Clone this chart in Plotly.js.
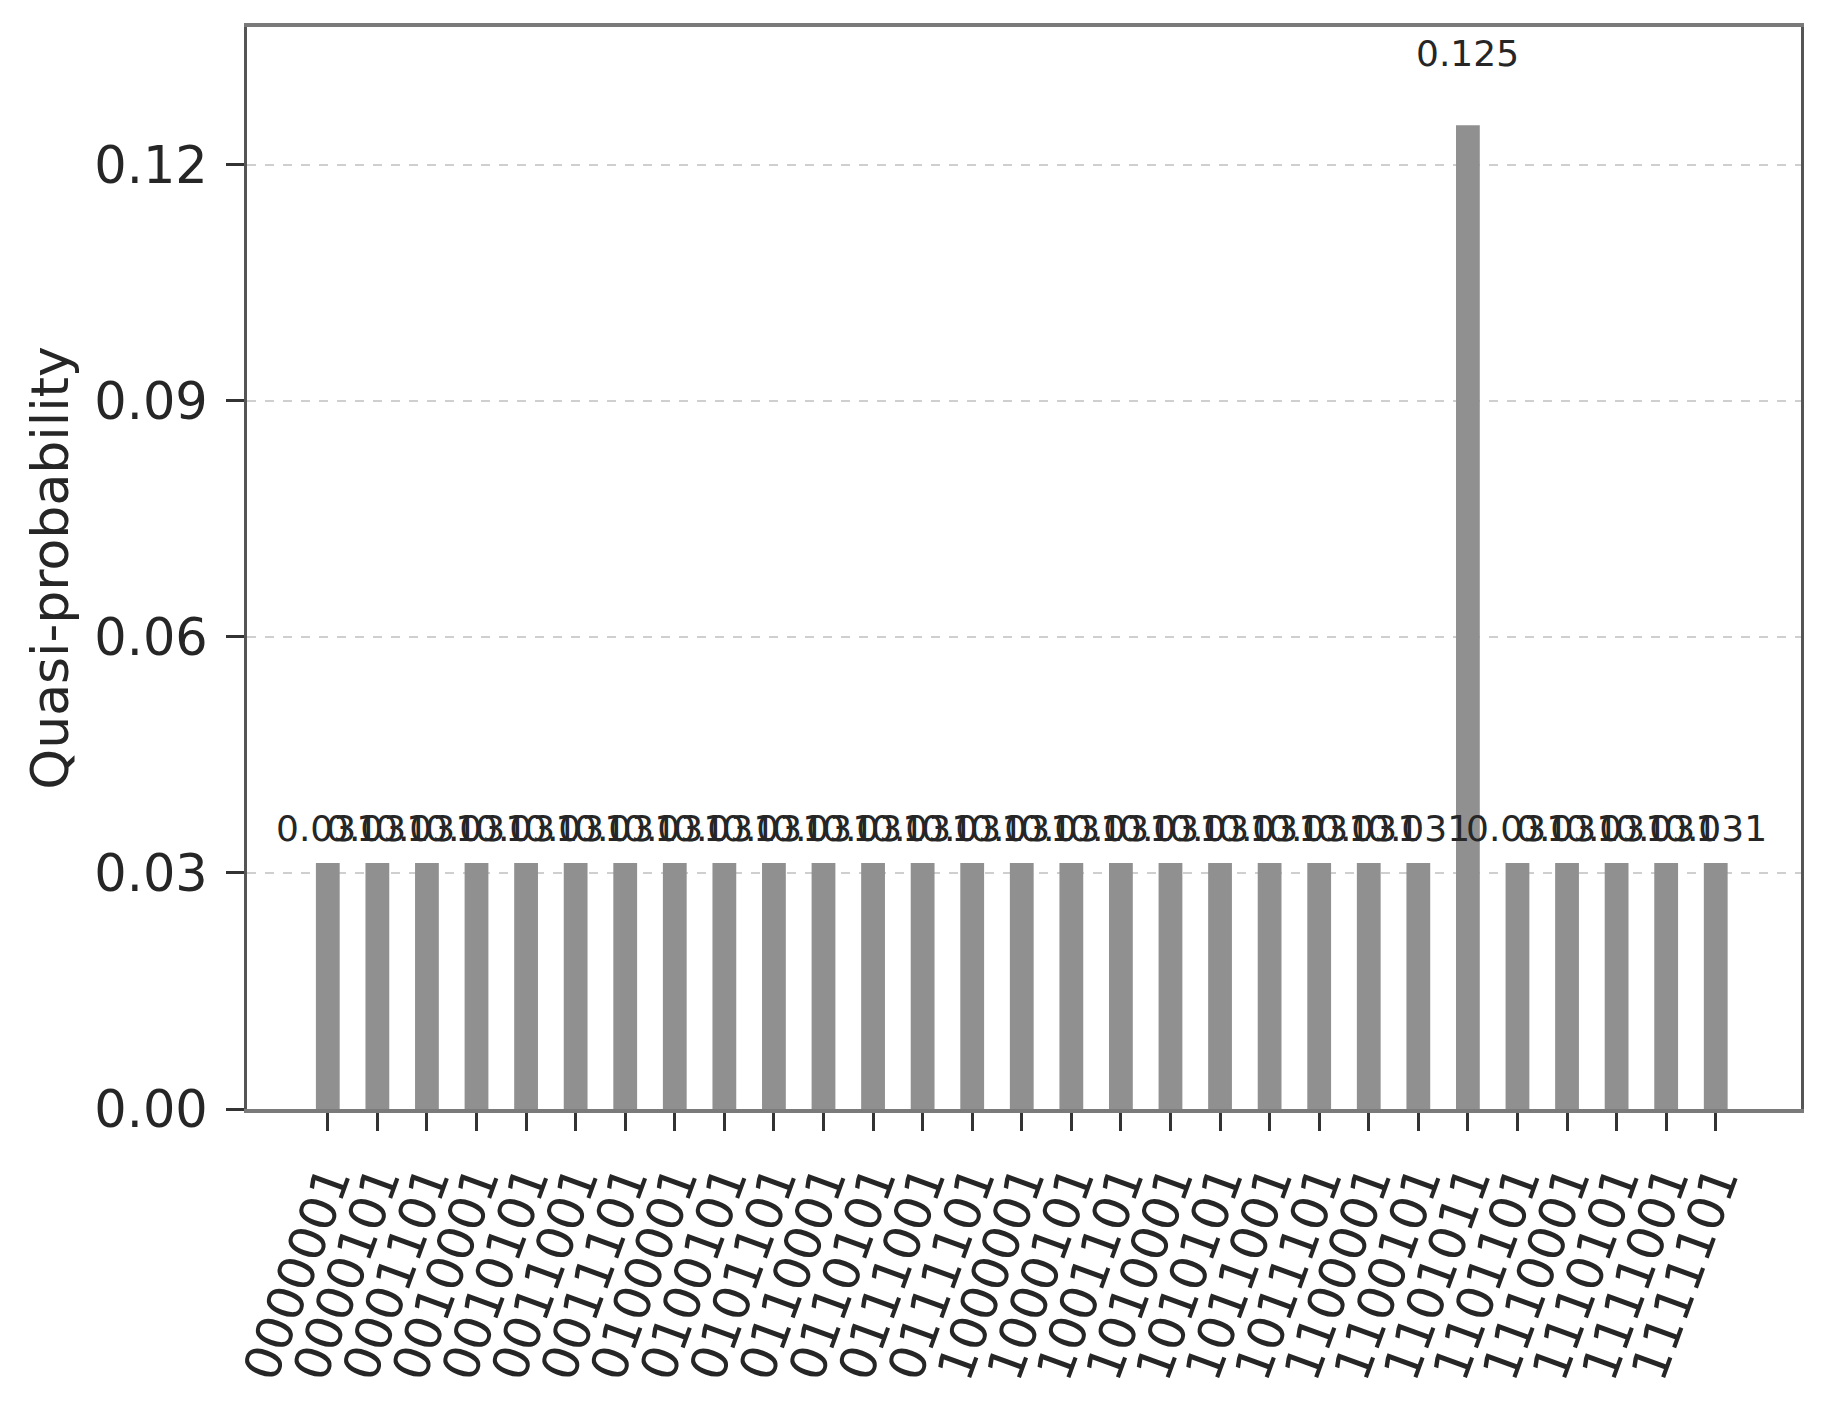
<!DOCTYPE html>
<html>
<head>
<meta charset="utf-8">
<script src="https://cdn.plot.ly/plotly-3.0.1.min.js"></script>
<style>
  html, body { margin: 0; padding: 0; background: #ffffff; }
  #chart { width: 1828px; height: 1402px; }
</style>
</head>
<body>
<div id="chart"></div>
<script>
// Bitstring outcomes (x categories)
const bitstrings = [
  "0000001", "0000101", "0001101", "0010001", "0010101", "0011001", "0011101",
  "0100001", "0100101", "0101101", "0110001", "0110101", "0111001", "0111101",
  "1000001", "1000101", "1001101", "1010001", "1010101", "1011001", "1011101",
  "1100001", "1100101", "1101011", "1101101", "1110001", "1110101", "1111001",
  "1111101"
];

// Quasi-probabilities
const quasiProbs = [
  0.03125, 0.03125, 0.03125, 0.03125, 0.03125, 0.03125, 0.03125,
  0.03125, 0.03125, 0.03125, 0.03125, 0.03125, 0.03125, 0.03125,
  0.03125, 0.03125, 0.03125, 0.03125, 0.03125, 0.03125, 0.03125,
  0.03125, 0.03125, 0.125, 0.03125, 0.03125, 0.03125, 0.03125,
  0.03125
];

// Y tick values and labels
const yTickVals = [0, 0.03, 0.06, 0.09, 0.12];
const yTickText = ["0.00", "0.03", "0.06", "0.09", "0.12"];

const FONT = "DejaVu Sans";

const trace = {
  type: "bar",
  x: bitstrings,
  y: quasiProbs,
  width: 0.48,
  marker: { color: "#909090", line: { width: 0 } },
  hoverinfo: "x+y"
};

// Value labels above each bar (placed at 1.05 x value, bottom-anchored),
// positioned by category index on the category axis
const annotations = bitstrings.map((b, i) => ({
  x: i,
  y: quasiProbs[i] * 1.05,
  xref: "x",
  yref: "y",
  text: quasiProbs[i].toFixed(3),
  showarrow: false,
  yanchor: "bottom",
  xanchor: "center",
  font: { family: FONT, size: 36, color: "#262626" }
}));

const layout = {
  width: 1828,
  height: 1402,
  paper_bgcolor: "#ffffff",
  plot_bgcolor: "#ffffff",
  margin: { l: 247, r: 27, t: 27, b: 293, pad: 0 },
  showlegend: false,
  font: { family: FONT, color: "#262626" },
  xaxis: {
    type: "category",
    range: [-1.63, 29.72],
    tickmode: "linear",
    tick0: 0,
    dtick: 1,
    tickangle: -70,
    tickfont: { family: FONT, size: 50, color: "#262626" },
    ticks: "outside",
    ticklen: 18,
    tickwidth: 2.5,
    tickcolor: "#333333",
    showline: true,
    linecolor: "#7a7a7a",
    linewidth: 4,
    mirror: true,
    showgrid: false,
    zeroline: false,
    automargin: false
  },
  yaxis: {
    range: [0, 0.1375],
    tickvals: yTickVals,
    ticktext: yTickText,
    tickfont: { family: FONT, size: 51, color: "#262626" },
    ticks: "outside",
    ticklen: 18,
    tickwidth: 2.5,
    tickcolor: "#333333",
    ticklabelstandoff: 8,
    showline: true,
    linecolor: "#555555",
    linewidth: 3,
    mirror: true,
    showgrid: true,
    gridcolor: "#cfcfcf",
    gridwidth: 2,
    griddash: "dash",
    zeroline: false,
    automargin: false,
    title: {
      text: "Quasi-probability",
      font: { family: FONT, size: 52, color: "#262626" },
      standoff: 10
    }
  },
  annotations: annotations,
  bargap: 0.5
};

Plotly.newPlot("chart", [trace], layout, { displayModeBar: false, responsive: false });
</script>
</body>
</html>
